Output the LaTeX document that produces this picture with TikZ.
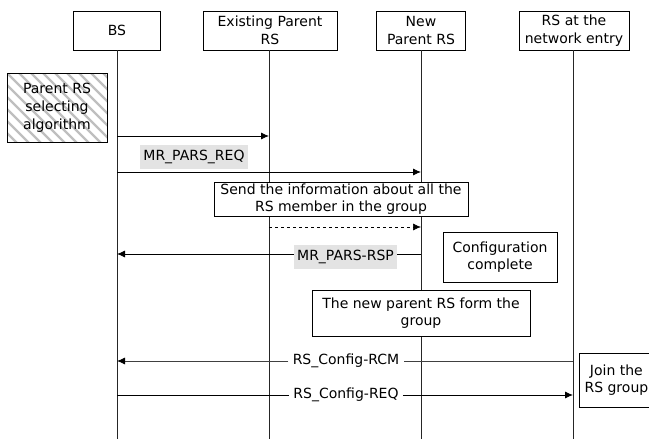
\documentclass[tikz,border=0pt]{standalone}
\usepackage{fontspec}
\setmainfont{DejaVu Sans}
\usetikzlibrary{positioning,arrows,arrows.meta}

\begin{document}
\begin{tikzpicture}[
      x=1pt,y=-1pt,
      line width=0.8pt,
      font=\fontsize{14}{18}\selectfont,
      actor/.style={
          draw,
          fill=white,
          align=center,
          minimum height=39pt,
          inner sep=2pt
        },
      note/.style={
          draw,
          fill=white,
          align=center,
          inner sep=2pt,
          font=\fontsize{14}{17}\selectfont
        },
      msg/.style={
          fill=gray!22,
          inner sep=3pt,
          minimum height=24pt
        },
      plainmsg/.style={
          inner sep=4pt
        },
      life/.style={
          draw=black!85
        },
      hatched/.style={
          path picture={
              \foreach \hx in {-84,-72,...,110}
              \draw[gray!50,line width=2.4pt] ([xshift=\hx pt]path picture bounding box.north west) -- ++(110,110);
            }
        },
      >={Latex[length=8pt,width=7pt,color=black]}
    ]
    \useasboundingbox (0,0) rectangle (649,439);

    \node[actor,minimum width=87pt] (bs) at (117,30.5) {BS};
    \node[actor,minimum width=134pt] (eprs) at (270,30.5) {Existing Parent\\RS};
    \node[actor,minimum width=89pt] (nprs) at (421,30.5) {New\\Parent RS};
    \node[actor,minimum width=110pt] (rsne) at (574,30.5) {RS at the\\network entry};

    \coordinate (bottom) at (0,439);
    \draw[life] (bs.south) -- (bs.south |- bottom);
    \draw[life] (eprs.south -| nprs.south) ++(-152,0) coordinate (eptop) -- (eptop |- bottom);
    \draw[life] (nprs.south) -- (nprs.south |- bottom);
    \draw[life] (rsne.south) ++(-1,0) coordinate (rstop) -- (rstop |- bottom);

    \node[draw,hatched,align=center,minimum width=100pt,minimum height=69pt,inner sep=2pt] (algo) at (57,107.5) {Parent RS\\selecting\\algorithm};

    \coordinate (m1) at (0,136);
    \coordinate (m2) at (0,172);
    \coordinate (m3) at (0,227);
    \coordinate (m4) at (0,254);
    \coordinate (m5) at (0,361);
    \coordinate (m6) at (0,395);

    \draw[->] (bs |- m1) -- (eptop |- m1);
    \node[msg] (req) at (194,157) {MR\_PARS\_REQ};
    \draw[->] (bs |- m2) -- (nprs |- m2);

    \node[note,minimum width=254pt,minimum height=33pt] (info) at (341,199.5) {Send the information about all the\\RS member in the group};
    \draw[->,dashed,line width=0.6pt] (eptop |- m3) -- (nprs |- m3);

    \node[msg] (rsp) at (345.5,257) {MR\_PARS-RSP};
    \draw (nprs |- m4) -- (rsp.east |- m4);
    \draw[->] (rsp.west |- m4) -- (bs |- m4);

    \node[note,minimum width=114pt,minimum height=50pt] (conf) at (500,257) {Configuration\\complete};
    \node[note,minimum width=218pt,minimum height=46pt] (form) at (421,313) {The new parent RS form the\\group};

    \node[plainmsg] (rcm) at (346,361) {RS\_Config-RCM};
    \draw[draw=black!75] (rstop |- m5) -- (rcm.east |- m5);
    \draw[->,draw=black!75] (rcm.west |- m5) -- (bs |- m5);

    \node[plainmsg] (creq) at (346,395) {RS\_Config-REQ};
    \draw (bs |- m6) -- (creq.west |- m6);
    \draw[->] (creq.east |- m6) -- (rstop |- m6);

    \node[note,minimum width=74pt,minimum height=54pt,anchor=west] (join) at (579,380) {Join the\\RS group};
  \end{tikzpicture}
\end{document}
